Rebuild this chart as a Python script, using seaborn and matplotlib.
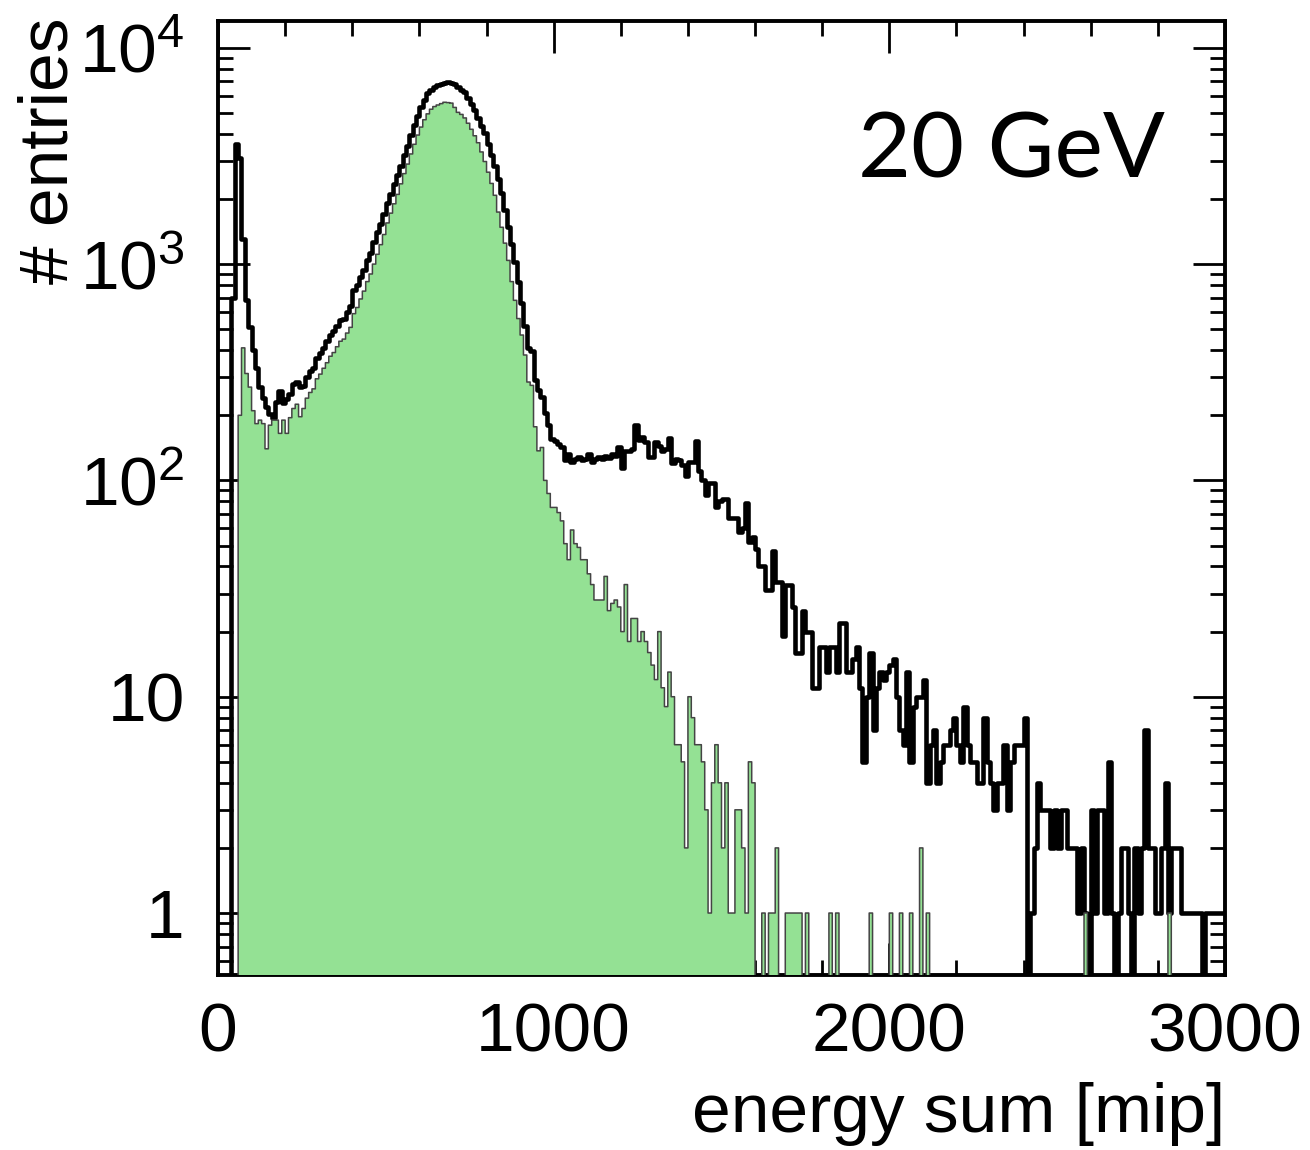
import numpy as np
import pandas as pd
import seaborn as sns
import matplotlib.pyplot as plt
from matplotlib.ticker import FixedLocator, MultipleLocator, LogLocator, NullFormatter, FixedFormatter

# 300 bins of 10 mip, 0 - 3000 mip
bin_lo = np.arange(0, 3000, 10)

# all events (black outline), one row per 100 mip
all_events = [
    0, 0, 0, 0, 700, 3600, 3100, 1310, 680, 510,
    400, 330, 270, 240, 218, 203, 195, 230, 260, 228,
    237, 250, 280, 285, 270, 272, 300, 320, 330, 370,
    390, 410, 440, 470, 490, 520, 550, 560, 600, 640,
    760, 800, 870, 940, 1040, 1130, 1260, 1400, 1540, 1700,
    1920, 2120, 2340, 2570, 2850, 3200, 3530, 3950, 4380, 4850,
    5300, 5730, 6180, 6400, 6580, 6700, 6790, 6880, 6950, 6900,
    6810, 6600, 6400, 6220, 5880, 5500, 5150, 4750, 4370, 4030,
    3600, 3200, 2840, 2480, 2140, 1780, 1480, 1240, 1020, 830,
    660, 520, 410, 395, 290, 262, 242, 205, 180, 155,
    152, 148, 142, 124, 133, 122, 126, 128, 124, 126,
    132, 122, 126, 128, 125, 130, 127, 133, 129, 142,
    114, 137, 137, 140, 180, 153, 158, 150, 128, 128,
    150, 145, 137, 140, 157, 120, 126, 124, 118, 105,
    122, 122, 152, 111, 100, 86, 97, 97, 75, 80,
    82, 82, 67, 67, 67, 58, 60, 79, 52, 55,
    48, 40, 40, 31, 31, 47, 34, 34, 19, 33,
    33, 26, 16, 16, 25, 20, 20, 11, 11, 17,
    17, 13, 17, 17, 13, 22, 22, 13, 13, 15,
    17, 11, 5, 10, 16, 7, 11, 13, 12, 13,
    14, 15, 10, 7, 6, 13, 5, 9, 10, 10,
    12, 4, 6, 7, 4, 5, 6, 6, 7, 8,
    6, 5, 9, 6, 5, 5, 4, 4, 8, 5,
    4, 3, 4, 4, 6, 3, 5, 6, 6, 6,
    8, 0, 1, 2, 4, 3, 3, 3, 2, 3,
    2, 3, 3, 2, 2, 2, 1, 2, 1, 0,
    3, 1, 3, 3, 1, 5, 1, 0, 1, 2,
    2, 1, 0, 2, 1, 2, 7, 2, 2, 1,
    1, 2, 4, 1, 2, 2, 2, 1, 1, 1,
    1, 1, 1, 0, 1, 1, 1, 1, 1, 1,
]

# selected events (green filled)
selected = [
    0, 0, 0, 0, 0, 0, 200, 410, 312, 270,
    210, 183, 190, 183, 140, 180, 190, 190, 165, 190,
    165, 195, 215, 225, 197, 215, 240, 255, 265, 295,
    310, 330, 350, 375, 390, 415, 440, 450, 480, 510,
    590, 630, 690, 750, 830, 900, 1000, 1110, 1230, 1370,
    1550, 1720, 1900, 2100, 2350, 2620, 2900, 3230, 3580, 3950,
    4300, 4650, 4950, 5200, 5350, 5440, 5520, 5600, 5580, 5550,
    5300, 5030, 4920, 4740, 4480, 4200, 3920, 3640, 3300, 2980,
    2660, 2360, 2080, 1740, 1480, 1250, 1040, 830, 680, 560,
    470, 380, 285, 275, 177, 137, 142, 100, 87, 75,
    75, 71, 65, 51, 43, 59, 51, 49, 43, 43,
    37, 33, 28, 28, 28, 36, 25, 27, 28, 26,
    20, 33, 18, 23, 23, 18, 20, 18, 16, 14,
    12, 20, 11, 9, 13, 10, 6, 6, 5, 2,
    10, 8, 6, 6, 5, 3, 1, 4, 6, 4,
    2, 4, 1, 1, 3, 3, 2, 1, 5, 4,
    0, 0, 1, 0, 1, 1, 2, 0, 0, 1,
    1, 1, 1, 1, 0, 1, 0, 0, 0, 0,
    0, 0, 1, 0, 1, 0, 0, 0, 0, 0,
    0, 0, 0, 0, 1, 0, 0, 0, 0, 0,
    1, 0, 0, 1, 0, 0, 1, 0, 0, 2,
    0, 1, 0, 0, 0, 0, 0, 0, 0, 0,
    0, 0, 0, 0, 0, 0, 0, 0, 0, 0,
    0, 0, 0, 0, 0, 0, 0, 0, 0, 0,
    0, 0, 0, 0, 0, 0, 0, 0, 0, 0,
    0, 0, 0, 0, 0, 0, 0, 0, 1, 0,
    0, 0, 0, 0, 0, 0, 0, 0, 0, 0,
    0, 0, 0, 0, 0, 0, 0, 0, 0, 0,
    0, 0, 0, 1, 0, 0, 0, 0, 0, 0,
    0, 0, 0, 0, 0, 0, 0, 0, 0, 0,
]

y_ticks = [1, 10, 100, 1000, 10000]
y_ticklabels = ['1', '10', r'$\mathdefault{10^{2}}$', r'$\mathdefault{10^{3}}$', r'$\mathdefault{10^{4}}$']
x_ticks = [0, 1000, 2000, 3000]

df = pd.DataFrame({'energy': bin_lo + 5, 'all': all_events, 'selected': selected})
edges = list(range(0, 3001, 10))

sns.set_theme(style='ticks')
plt.rcParams['font.family'] = ['Liberation Sans', 'DejaVu Sans']
plt.rcParams['mathtext.fontset'] = 'custom'
plt.rcParams['mathtext.rm'] = 'Liberation Sans'
for key in ['text.color', 'axes.labelcolor', 'xtick.color', 'ytick.color']:
    plt.rcParams[key] = 'black'

fig = plt.figure(figsize=(13.1, 11.5), dpi=100)
ax = fig.add_axes([218 / 1310, 1 - 975 / 1150, 1007 / 1310, (975 - 21) / 1150])

sns.histplot(data=df, x='energy', weights='all', bins=edges, element='step',
             fill=False, color='black', linewidth=3.3, ax=ax, zorder=3)
sns.histplot(data=df, x='energy', weights='selected', bins=edges, element='step',
             fill=True, facecolor='#94e194', edgecolor='#444444', linewidth=1.1,
             alpha=1, ax=ax, zorder=4)

ax.set_yscale('log')
ax.set_xlim(0, 3000)
ax.set_ylim(0.517, 13300)

ax.xaxis.set_major_locator(FixedLocator(x_ticks))
ax.xaxis.set_minor_locator(MultipleLocator(200))
ax.yaxis.set_major_locator(FixedLocator(y_ticks))
ax.yaxis.set_major_formatter(FixedFormatter(y_ticklabels))
ax.yaxis.set_minor_locator(LogLocator(base=10, subs=np.arange(2, 10)))
ax.yaxis.set_minor_formatter(NullFormatter())

ax.tick_params(which='both', direction='in', top=True, right=True, width=2, color='black')
ax.tick_params(which='major', length=23, labelsize=50, pad=19)
ax.tick_params(which='minor', length=11)
ax.tick_params(axis='y', which='major', pad=24)
for s in ax.spines.values():
    s.set_linewidth(2.8)
    s.set_color('black')

ax.set_xlabel('energy sum [mip]', fontsize=50, loc='right', labelpad=12)
ax.set_ylabel('')
fig.text(50 / 1310, 1 - 18 / 1150, '# entries', rotation=90, ha='center', va='top', fontsize=50)
fig.text(1165 / 1310, 1 - 178 / 1150, '20 GeV', ha='right', va='baseline', fontsize=66,
         family=['Lato', 'DejaVu Sans'])

fig.savefig('out.png', dpi=100)
